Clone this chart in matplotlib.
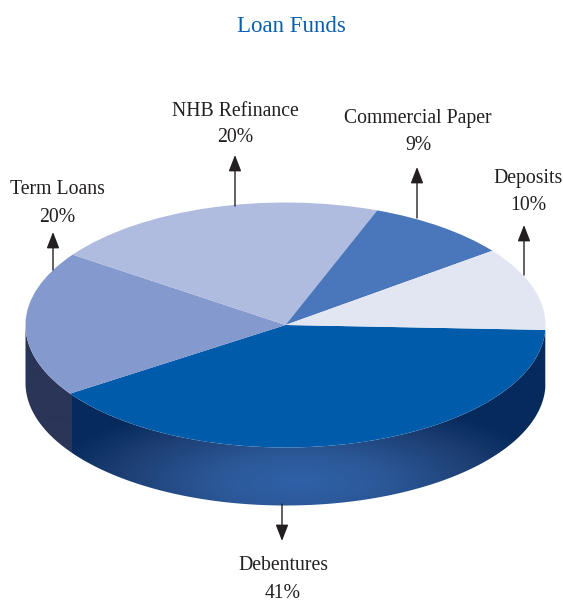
import numpy as np
import matplotlib
matplotlib.use("Agg")
import matplotlib.pyplot as plt
from matplotlib.patches import Polygon
from matplotlib.colors import LinearSegmentedColormap

categories = ["Debentures", "Term Loans", "NHB Refinance", "Commercial Paper", "Deposits"]
labelled_percent = [41, 20, 20, 9, 10]
# slice sizes as drawn in the picture (shares of the ellipse's turn)
drawn_share = [39.9, 19.2, 21.0, 8.9, 11.0]
colors = ["#015bab", "#8499cd", "#b0bcdf", "#4a76bb", "#e2e6f2"]

W, H = 563, 601
cx, cy, rx, ry = 285.5, 325.0, 260.0, 122.5
depth = 58.0
start = -2.3

fig = plt.figure(figsize=(W / 100, H / 100), dpi=100, facecolor="white")
ax = fig.add_axes([0, 0, 1, 1])
xlim = (-cx / rx, (W - cx) / rx)
ylim = ((cy - H) / ry, cy / ry)

# side wall
th = np.radians(np.linspace(start, -180, 300))
top = np.c_[np.cos(th), np.sin(th)]
bot = top[::-1] - [0, depth / ry]
wall = Polygon(np.vstack([top, bot]), closed=True, fc="none", ec="none")
ax.add_patch(wall)

px = np.arange(W)
py = np.arange(300, 520)
X, Y = np.meshgrid(px + .5, py + .5)
dist = np.sqrt(((X - 300) / 255) ** 2 + ((Y - 482) / 62) ** 2 * .55)
cmap = LinearSegmentedColormap.from_list(
    "wall", [(0, "#2f62a8"), (.35, "#2b5796"), (.7, "#1d3f74"), (1, "#062a5c")])
rgb = cmap(np.clip(dist, 0, 1))
rgb[X < 72] = matplotlib.colors.to_rgba("#2a3557")
im = ax.imshow(rgb, aspect="auto", zorder=1, interpolation="bilinear",
               extent=[(0 - cx) / rx, (W - cx) / rx, (cy - 520) / ry, (cy - 300) / ry])
im.set_clip_path(wall)

wedges, _ = ax.pie(drawn_share, colors=colors, startangle=start, counterclock=False,
                   radius=1, center=(0, 0), wedgeprops=dict(linewidth=0, zorder=2))
ax.set_aspect("auto")
ax.set_xlim(*xlim)
ax.set_ylim(*ylim)
ax.axis("off")

# overlay in picture pixels for labels and arrows
ov = fig.add_axes([0, 0, 1, 1], facecolor="none")
ov.set_xlim(0, W)
ov.set_ylim(H, 0)
ov.axis("off")

serif = "Liberation Serif"
ov.text(291, 26, "Loan Funds", ha="center", va="center", color="#0a5fb0",
        fontsize=16.5, family=serif)

label_pos = {"Debentures": (283, 566), "Term Loans": (57, 190), "NHB Refinance": (235, 111),
             "Commercial Paper": (418, 119), "Deposits": (528, 178)}
arrow_pos = {"Debentures": (282, 504, 541), "Term Loans": (53, 270, 232),
             "NHB Refinance": (235, 206, 155), "Commercial Paper": (417, 218, 167),
             "Deposits": (524, 275, 225)}
for name, pct in zip(categories, labelled_percent):
    x, y = label_pos[name]
    ov.text(x, y, name, ha="center", va="center", color="#231f20", fontsize=14.2, family=serif)
    ov.text(x, y + 27, f"{pct}%", ha="center", va="center", color="#231f20",
            fontsize=14.2, family=serif)
    ax_x, y0, y1 = arrow_pos[name]
    ov.annotate("", xy=(ax_x, y1), xytext=(ax_x, y0),
                arrowprops=dict(arrowstyle="-|>,head_length=0.62,head_width=0.24",
                                color="#231f20", lw=1, mutation_scale=16,
                                shrinkA=0, shrinkB=0))

fig.savefig("out.png", dpi=100, facecolor="white")
